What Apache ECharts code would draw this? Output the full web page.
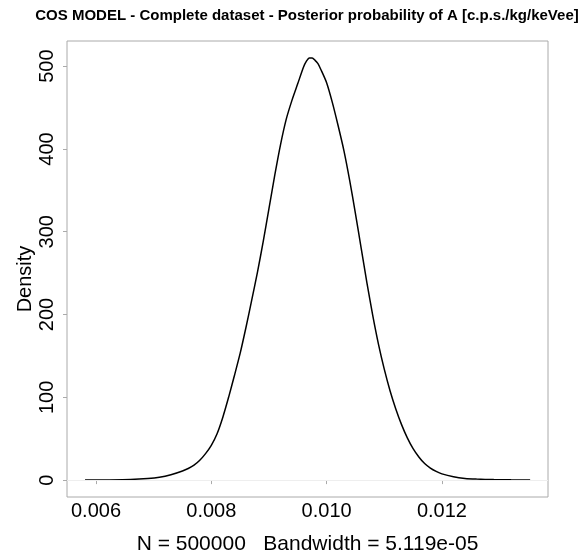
<!DOCTYPE html>
<html>
<head>
<meta charset="utf-8">
<script src="https://cdn.jsdelivr.net/npm/echarts@6/dist/echarts.min.js"></script>
<style>
html,body{margin:0;padding:0;background:#fff;}
#chart{width:581px;height:560px;}
</style>
</head>
<body>
<div id="chart"></div>
<script>
// Density curve values
var xValues = [0.00581, 0.0062, 0.0066, 0.0069, 0.0071, 0.0073, 0.0075, 0.0076, 0.0077, 0.0078, 0.0079, 0.0080,
  0.0081, 0.0082, 0.0083, 0.0084, 0.0085, 0.0086, 0.0087, 0.0088, 0.0089, 0.0090,
  0.0091, 0.0092, 0.0093, 0.0094, 0.0095, 0.0096, 0.00965, 0.0097, 0.00975, 0.0098, 0.00985, 0.0099,
  0.0100, 0.0101, 0.0102, 0.0103, 0.0104, 0.0105, 0.0106, 0.0107, 0.0108, 0.0109,
  0.0110, 0.0111, 0.0112, 0.0113, 0.0114, 0.0115, 0.0116, 0.0117, 0.0118, 0.0119,
  0.0120, 0.0122, 0.0124, 0.0126, 0.0129, 0.0132, 0.01353];
var densityValues = [0.1, 0.2, 0.6, 1.8, 3.4, 6.5, 11, 14, 18, 24, 32, 42,
  56, 76, 100, 126, 153, 184, 217, 251, 288, 328,
  368, 405, 436, 459, 479, 499, 506, 510, 510, 507, 503, 496,
  480, 456, 428, 398, 362, 322, 280, 238, 199, 164,
  134, 108, 86, 67, 51, 38, 28, 20, 14.5, 10.5,
  7.5, 4, 2, 1.2, 0.6, 0.3, 0.1];
var xTicks = [0.006, 0.008, 0.010, 0.012];
var yTicks = [0, 100, 200, 300, 400, 500];
var titleText = 'COS MODEL - Complete dataset - Posterior probability of A [c.p.s./kg/keVee]';
var xAxisTitle = 'N = 500000   Bandwidth = 5.119e-05';
var yAxisTitle = 'Density';

var FONT = '"Liberation Sans", Arial, Helvetica, sans-serif';
var seriesData = xValues.map(function (x, i) { return [x, densityValues[i]]; });

var chart = echarts.init(document.getElementById('chart'), null, {renderer: 'canvas'});
chart.setOption({
  backgroundColor: '#ffffff',
  animation: false,
  graphic: [{
    type: 'text',
    x: 307, y: 16,
    style: {
      text: titleText, textAlign: 'center', textVerticalAlign: 'middle',
      fontFamily: FONT, fontWeight: 'bold', fontSize: 15, fill: '#000'
    }
  }, {
    type: 'text',
    x: 25, y: 279,
    rotation: Math.PI / 2,
    style: {
      text: yAxisTitle, textAlign: 'center', textVerticalAlign: 'middle',
      fontFamily: FONT, fontSize: 20, fill: '#000'
    }
  }],
  grid: {
    left: 67, top: 41, width: 481, height: 470,
    show: true, borderColor: '#aaaaaa', borderWidth: 1, backgroundColor: 'transparent'
  },
  xAxis: {
    type: 'value',
    min: 0.005497, max: 0.01384,
    axisLine: {show: false},
    splitLine: {show: false},
    axisTick: {show: true, customValues: xTicks, length: 4, lineStyle: {color: '#aaaaaa'}},
    axisLabel: {
      customValues: xTicks, margin: 4,
      formatter: function (v) { return v.toFixed(3); },
      fontFamily: FONT, fontSize: 20, color: '#000'
    },
    name: xAxisTitle, nameLocation: 'middle', nameGap: 37,
    nameTextStyle: {fontFamily: FONT, fontSize: 21, color: '#000'}
  },
  yAxis: {
    type: 'value',
    min: -20.4, max: 530.4,
    axisLine: {show: false},
    splitLine: {show: false},
    axisTick: {show: true, customValues: yTicks, length: 4, lineStyle: {color: '#aaaaaa'}},
    axisLabel: {
      customValues: yTicks, rotate: 90, margin: 10,
      fontFamily: FONT, fontSize: 20, color: '#000'
    }
  },
  series: [{
    type: 'line',
    data: seriesData,
    showSymbol: false,
    smooth: 0.25,
    lineStyle: {color: '#000', width: 1.5},
    markLine: {
      silent: true, symbol: 'none', label: {show: false},
      lineStyle: {color: '#eeeeee', width: 1, type: 'solid'},
      data: [{yAxis: 0}]
    },
    z: 3
  }]
});
</script>
</body>
</html>
